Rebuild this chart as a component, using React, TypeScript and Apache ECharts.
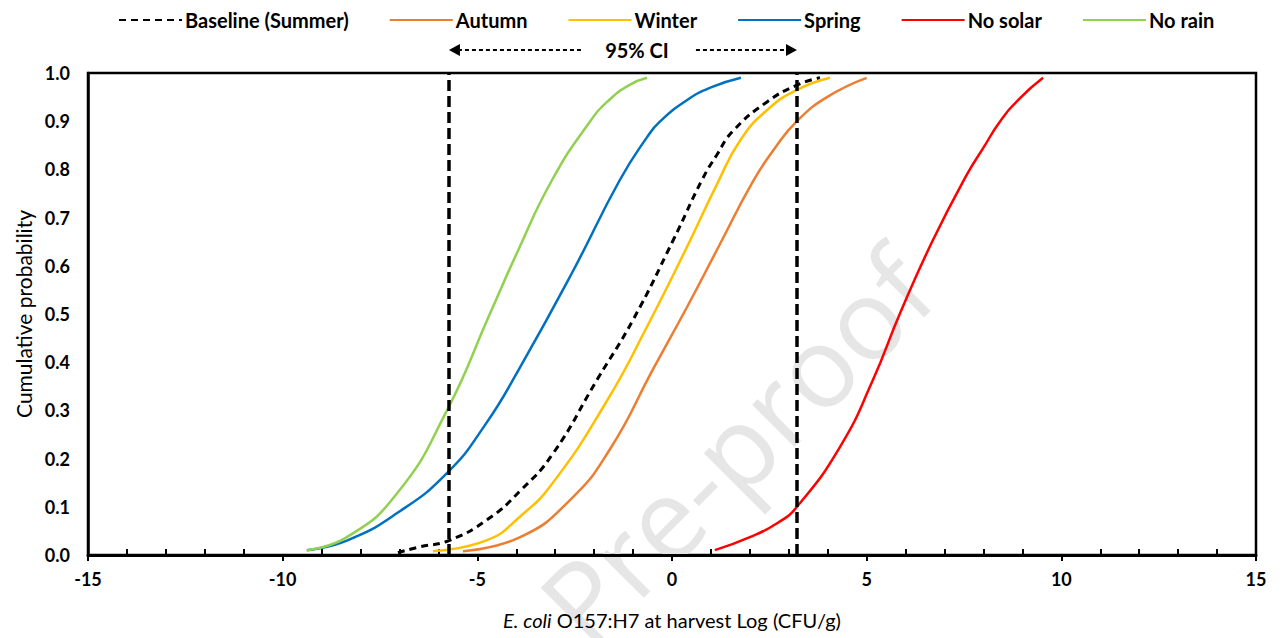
import React, { useEffect, useRef } from "react";
import * as echarts from "echarts";

const FONT = "Lato, 'Open Sans', sans-serif";

const seriesNames = ["Baseline (Summer)", "Autumn", "Winter", "Spring", "No solar", "No rain"];
const seriesColors = ["#000000", "#ED7D31", "#FFC000", "#0070C0", "#FF0000", "#92D050"];

const baseline: [number, number][] = [
  [-7.04, 0.005], [-6.47, 0.017], [-5.73, 0.03], [-4.75, 0.073], [-3.9, 0.133], [-3.06, 0.21],
  [-1.93, 0.363], [-1.0, 0.488], [0.03, 0.653], [0.77, 0.778], [1.15, 0.83], [1.57, 0.88],
  [2.44, 0.94], [3.21, 0.975], [3.8, 0.99],
];
const autumn: [number, number][] = [
  [-5.37, 0.008], [-3.9, 0.037], [-2.62, 0.114], [-1.59, 0.22], [-0.49, 0.385], [0.39, 0.515],
  [1.2, 0.64], [2.08, 0.775], [2.65, 0.845], [3.21, 0.9], [3.98, 0.95], [5.0, 0.99],
];
const winter: [number, number][] = [
  [-6.14, 0.008], [-4.75, 0.031], [-3.9, 0.08], [-3.06, 0.15], [-1.67, 0.32], [-0.64, 0.474],
  [0.39, 0.64], [1.16, 0.77], [1.75, 0.86], [2.44, 0.923], [3.21, 0.965], [4.06, 0.99],
];
const spring: [number, number][] = [
  [-9.38, 0.01], [-8.35, 0.03], [-7.06, 0.087], [-5.78, 0.17], [-4.8, 0.27], [-3.9, 0.39],
  [-2.57, 0.585], [-1.34, 0.778], [-0.64, 0.867], [-0.3, 0.9], [0.39, 0.944], [1.0, 0.97], [1.77, 0.99],
];
const noSolar: [number, number][] = [
  [1.1, 0.01], [2.0, 0.037], [2.7, 0.066], [3.21, 0.1], [4.32, 0.225], [5.16, 0.363], [5.86, 0.502],
  [6.7, 0.653], [7.58, 0.79], [8.0, 0.845], [8.43, 0.9], [8.94, 0.948], [9.53, 0.99],
];
const noRain: [number, number][] = [
  [-9.38, 0.01], [-8.35, 0.037], [-7.06, 0.128], [-5.78, 0.3], [-4.68, 0.5], [-3.98, 0.627],
  [-3.08, 0.778], [-2.1, 0.9], [-1.6, 0.945], [-1.1, 0.975], [-0.64, 0.99],
];
const seriesData = [baseline, autumn, winter, spring, noSolar, noRain];

const ciBounds = [-5.73, 3.21];
const ciLabel = "95% CI";
const minorTickValues: number[] = [];
for (let v = -15; v <= 15; v++) if (v % 5 !== 0) minorTickValues.push(v);

export default function App() {
  const ref = useRef<HTMLDivElement>(null);
  useEffect(() => {
    if (!ref.current) return;
    const chart = echarts.init(ref.current, null, { renderer: "svg" });
    const series: any[] = seriesNames.map((name, i) => ({
      name,
      type: "line",
      data: seriesData[i],
      smooth: 0.5,
      symbol: "none",
      xAxisIndex: 0,
      z: 3,
      lineStyle: {
        color: seriesColors[i],
        width: i === 0 ? 3 : 2.5,
        type: i === 0 ? [7, 5] : "solid",
      },
      itemStyle: { color: seriesColors[i] },
    }));
    series[0].markLine = {
      silent: true,
      symbol: "none",
      label: { show: false },
      lineStyle: { color: "#000", width: 3.5, type: [11, 5] },
      data: ciBounds.map((v) => ({ xAxis: v })),
    };
    chart.setOption({
      animation: false,
      backgroundColor: "#fff",
      textStyle: { fontFamily: FONT },
      legend: {
        top: 5,
        left: 113,
        itemWidth: 63,
        itemHeight: 12,
        itemGap: 40,
        itemStyle: { opacity: 0 },
        textStyle: { fontFamily: FONT, fontWeight: "bold", fontSize: 20, color: "#000", padding: [0, 0, 0, -2] },
        data: seriesNames,
      },
      grid: {
        left: 88,
        right: 31,
        top: 73,
        bottom: 83,
        show: true,
        borderColor: "#000",
        borderWidth: 2.5,
      },
      xAxis: [
        {
          type: "value",
          min: -15,
          max: 15,
          interval: 5,
          position: "bottom",
          axisLine: { show: true, onZero: false, lineStyle: { color: "#000", width: 3 } },
          axisTick: { show: true, inside: false, length: 6, lineStyle: { color: "#000", width: 2 } },
          splitLine: { show: false },
          axisLabel: { color: "#000", fontWeight: "bold", fontSize: 18, margin: 15, fontFamily: FONT },
          name: "{i|E. coli} O157:H7 at harvest Log (CFU/g)",
          nameLocation: "middle",
          nameGap: 55,
          nameTextStyle: {
            color: "#000",
            fontWeight: "normal",
            fontSize: 20,
            fontFamily: FONT,
            rich: { i: { fontStyle: "italic", fontWeight: "normal", fontSize: 20, fontFamily: FONT, color: "#000" } },
          },
        },
        {
          type: "value",
          min: -15,
          max: 15,
          interval: 1,
          position: "bottom",
          offset: 0,
          axisLine: { show: false, onZero: false },
          axisTick: {
            show: true,
            inside: true,
            length: 6,
            customValues: minorTickValues,
            lineStyle: { color: "#000", width: 2 },
          },
          axisLabel: { show: false },
          splitLine: { show: false },
        },
      ],
      yAxis: {
        type: "value",
        min: 0,
        max: 1,
        interval: 0.1,
        axisLine: { show: true, onZero: false, lineStyle: { color: "#000", width: 2.5 } },
        axisTick: { show: false },
        splitLine: { show: false },
        axisLabel: {
          color: "#000",
          fontWeight: "bold",
          fontSize: 18,
          margin: 18,
          fontFamily: FONT,
          formatter: (v: number) => v.toFixed(1),
        },
        name: "Cumulative probability",
        nameLocation: "middle",
        nameGap: 54,
        nameTextStyle: { color: "#000", fontWeight: "normal", fontSize: 21, fontFamily: FONT },
      },
      series,
    });

    const xl = chart.convertToPixel({ xAxisIndex: 0 }, ciBounds[0]) as number;
    const xr = chart.convertToPixel({ xAxisIndex: 0 }, ciBounds[1]) as number;
    const ytop = chart.convertToPixel({ yAxisIndex: 0 }, 1) as number;
    const ay = ytop - 23;
    const tc = (xl + xr) / 2 + 14;
    const head = 11;
    const arrowStyle = { stroke: "#000", lineWidth: 2, lineDash: [4, 3] };
    chart.setOption({
      graphic: [
        {
          type: "text",
          z: 0,
          x: 735,
          y: 445,
          rotation: Math.PI / 4,
          style: {
            text: "Pre-proof",
            fontSize: 112,
            fontFamily: "'Open Sans', sans-serif",
            fill: "#e6e6e6",
            align: "center",
            verticalAlign: "middle",
          },
        },
        {
          type: "text",
          x: tc,
          y: ay,
          style: {
            text: ciLabel,
            fontSize: 20,
            fontWeight: "bold",
            fontFamily: FONT,
            fill: "#000",
            align: "center",
            verticalAlign: "middle",
          },
        },
        {
          type: "line",
          shape: { x1: tc - 56, y1: ay, x2: xl + head, y2: ay },
          style: arrowStyle,
        },
        {
          type: "polygon",
          shape: { points: [[xl, ay], [xl + head, ay - 6], [xl + head, ay + 6]] },
          style: { fill: "#000" },
        },
        {
          type: "line",
          shape: { x1: tc + 59, y1: ay, x2: xr - head, y2: ay },
          style: arrowStyle,
        },
        {
          type: "polygon",
          shape: { points: [[xr, ay], [xr - head, ay - 6], [xr - head, ay + 6]] },
          style: { fill: "#000" },
        },
      ],
    });
    return () => chart.dispose();
  }, []);
  return (
    <div
      ref={ref}
      style={{ position: "fixed", left: 0, top: 0, width: 1287, height: 638, background: "#fff" }}
    />
  );
}
